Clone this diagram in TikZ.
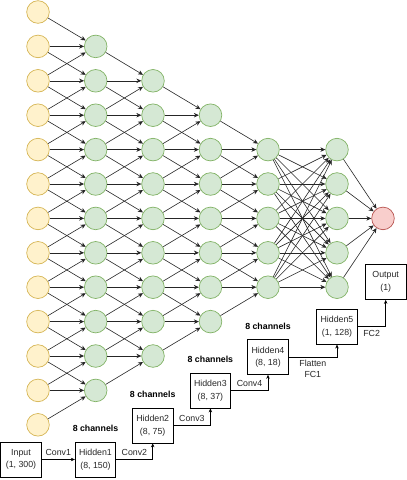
\documentclass[tikz,border=0pt]{standalone}
\usepackage{fontspec}
\setmainfont{Liberation Sans}
\usetikzlibrary{arrows.meta,positioning}

\definecolor{inFill}{HTML}{FFF2CC}
\definecolor{inLine}{HTML}{D6B656}
\definecolor{hidFill}{HTML}{D5E8D4}
\definecolor{hidLine}{HTML}{82B366}
\definecolor{outFill}{HTML}{F8CECC}
\definecolor{outLine}{HTML}{B85450}

\tikzset{
    neuron/.style = {circle, minimum size=22.6pt, inner sep=0pt, line width=0.7pt},
    inneuron/.style = {neuron, fill=inFill, draw=inLine},
    hidneuron/.style = {neuron, fill=hidFill, draw=hidLine},
    outneuron/.style = {neuron, fill=outFill, draw=outLine},
    link/.style = {-{Stealth[length=5pt,width=4.5pt]}, line width=0.6pt, draw=black!85},
    layerbox/.style = {
        draw,
        line width=0.7pt,
        minimum width=40.6pt,
        minimum height=35pt,
        inner sep=0pt,
        align=center,
        font=\fontsize{8.8}{12.5}\selectfont,
        text=black!85
    },
    flow/.style = {-{Stealth[length=4pt,width=3.5pt]}, line width=0.6pt},
    flowlabel/.style = {font=\fontsize{8.8}{11}\selectfont, align=center, inner sep=3pt, text=black!85},
    chanlabel/.style = {font=\bfseries\fontsize{8.8}{10}\selectfont, inner sep=0pt}
}

\begin{document}
\begin{tikzpicture}[x=1pt, y=-1pt]
    \useasboundingbox (0,0) rectangle (407,480);

    % input column
    \foreach \r in {0,...,12}
        \node[inneuron] (n0-\r) at (38, 12+34.4*\r) {};
    % conv columns
    \foreach \k/\x in {1/95.7, 2/153, 3/210.5, 4/268} {
        \pgfmathtruncatemacro\last{12-\k}
        \foreach \r in {\k,...,\last}
            \node[hidneuron] (n\k-\r) at (\x, 12+34.4*\r) {};
    }
    % dense column and output
    \foreach \r in {4,...,8}
        \node[hidneuron] (n5-\r) at (337, 12+34.4*\r) {};
    \node[outneuron] (n6-6) at (383, 12+34.4*6) {};

    % conv links, kernel 3
    \foreach \k in {0,...,3} {
        \pgfmathtruncatemacro\nxt{\k+1}
        \pgfmathtruncatemacro\last{11-\k}
        \foreach \r in {\nxt,...,\last}
            \foreach \d in {-1,0,1} {
                \pgfmathtruncatemacro\s{\r+\d}
                \draw[link] (n\k-\s) -- (n\nxt-\r);
            }
    }
    % fully connected
    \foreach \a in {4,...,8}
        \foreach \b in {4,...,8}
            \draw[link] (n4-\a) -- (n5-\b);
    \foreach \a in {4,...,8}
        \draw[link] (n5-\a) -- (n6-6);

    % shapes of the layers
    \node[layerbox] (in) at (21, 459.5) {Input\\(1, 300)};
    \node[layerbox] (h1) at (95.5, 459.5) {Hidden1\\(8, 150)};
    \node[layerbox] (h2) at (152.7, 425.5) {Hidden2\\(8, 75)};
    \node[layerbox] (h3) at (210.4, 390.5) {Hidden3\\(8, 37)};
    \node[layerbox] (h4) at (268, 357) {Hidden4\\(8, 18)};
    \node[layerbox] (h5) at (337, 326.7) {Hidden5\\(1, 128)};
    \node[layerbox] (out) at (385.7, 282) {Output\\(1)};

    \node[chanlabel, above=9.5pt of h1] (c1) {8 channels};
    \node[chanlabel, above=9.5pt of h2] (c2) {8 channels};
    \node[chanlabel, above=9.5pt of h3] (c3) {8 channels};
    \node[chanlabel, above=9.5pt of h4] (c4) {8 channels};

    \draw[flow] (in) -- node[flowlabel, above, inner sep=4pt] {Conv1} (h1);
    \draw[flow] (h1) -| node[flowlabel, above, inner sep=4pt, pos=0.25] {Conv2} (h2);
    \draw[flow] (h2) -| node[flowlabel, above, inner sep=4pt, pos=0.25] {Conv3} (h3);
    \draw[flow] (h3) -| node[flowlabel, above, inner sep=4pt, pos=0.25] {Conv4} (h4);
    \draw[flow] (h4) -| node[flowlabel, below, pos=0.25] {Flatten\\FC1} (h5);
    \draw[flow] (h5) -| node[flowlabel, below, pos=0.25] {FC2} (out);
\end{tikzpicture}
\end{document}
